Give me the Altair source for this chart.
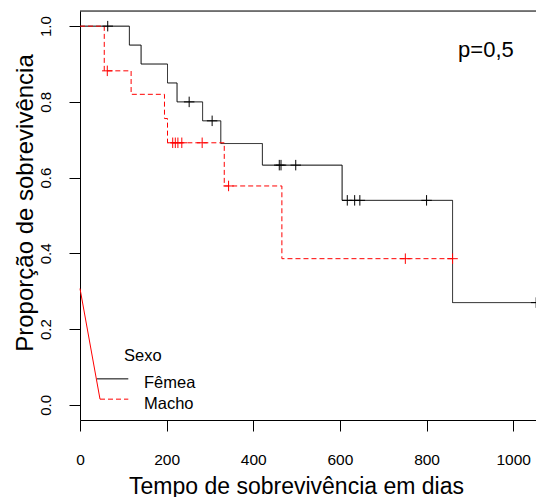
import altair as alt
import pandas as pd

# Kaplan-Meier curves (time in days, survival proportion)
fem_t = [0, 114, 141, 202, 224, 283, 325, 421, 605, 860, 1053]
fem_s = [1.0, 0.95, 0.90, 0.85, 0.80, 0.75, 0.69, 0.633, 0.54, 0.27, 0.27]
male_t = [0, 56, 118, 195, 202, 333, 466, 860]
male_s = [1.0, 0.882, 0.82, 0.756, 0.692, 0.578, 0.386, 0.386]

# censored observations
fem_cens_t = [64, 252, 305, 460, 464, 498, 617, 634, 646, 800, 1053]
fem_cens_s = [1.0, 0.80, 0.75, 0.633, 0.633, 0.633, 0.54, 0.54, 0.54, 0.54, 0.27]
male_cens_t = [63, 214, 220, 226, 235, 282, 343, 751, 860]
male_cens_s = [0.882, 0.692, 0.692, 0.692, 0.692, 0.692, 0.578, 0.386, 0.386]

groups = ["Fêmea", "Macho"]
colors = ["#000000", "#FF0000"]
x_ticks = [0, 200, 400, 600, 800, 1000]
y_ticks = [0.0, 0.2, 0.4, 0.6, 0.8, 1.0]
p_text = "p=0,5"
legend_title = "Sexo"

FONT = "Liberation Sans"
X_DOMAIN = [0, 1052.6]
Y_DOMAIN = [-0.04, 1.04]

curves = pd.DataFrame(
    [{"t": t, "s": s, "g": groups[0]} for t, s in zip(fem_t, fem_s)]
    + [{"t": t, "s": s, "g": groups[1]} for t, s in zip(male_t, male_s)]
)
cens = pd.DataFrame(
    [{"t": t, "s": s, "g": groups[0]} for t, s in zip(fem_cens_t, fem_cens_s)]
    + [{"t": t, "s": s, "g": groups[1]} for t, s in zip(male_cens_t, male_cens_s)]
)

xs = alt.Scale(domain=X_DOMAIN, nice=False, zero=False)
ys = alt.Scale(domain=Y_DOMAIN, nice=False, zero=False)
cs = alt.Scale(domain=groups, range=colors)

x_axis = alt.Axis(
    format="d",
    values=x_ticks, grid=False, domainColor="black", tickColor="black", tickSize=11,
    labelFont=FONT, labelFontSize=15.5, labelColor="black", labelBaseline="alphabetic",
    labelPadding=33, labelFlush=False, labelOverlap=False,
    title="Tempo de sobrevivência em dias", titleFont=FONT, titleFontSize=23,
    titleFontWeight="normal", titleColor="black", titleBaseline="alphabetic",
    titleAlign="center", titleX=216, titleY=73,
)
y_axis = alt.Axis(
    values=y_ticks, format=".1f", grid=False, domainColor="black", tickColor="black",
    tickSize=11, labelFont=FONT, labelFontSize=15, labelColor="black", labelAngle=270,
    labelAlign="center", labelBaseline="alphabetic", labelPadding=19, labelFlush=False,
    labelOverlap=False,
    title="Proporção de sobrevivência", titleFont=FONT, titleFontSize=24,
    titleFontWeight="normal", titleColor="black", titleAngle=270, titleAlign="center",
    titleBaseline="alphabetic", titleX=-48, titleY=191.5,
)


def X():
    return alt.X("t:Q", scale=xs)


def Y():
    return alt.Y("s:Q", scale=ys)


lines = alt.Chart(curves).mark_line(interpolate="step-after", strokeWidth=1).encode(
    x=alt.X("t:Q", scale=xs, axis=x_axis),
    y=alt.Y("s:Q", scale=ys, axis=y_axis),
    color=alt.Color("g:N", scale=cs, legend=None),
    strokeDash=alt.StrokeDash("g:N", scale=alt.Scale(domain=groups, range=[[1, 0], [5, 3]]), legend=None),
)

plus = "M-1,0H1M0,-1V1"
marks = alt.Chart(cens).mark_point(shape=plus, size=110, filled=False, strokeWidth=1, opacity=1).encode(
    x=X(), y=Y(),
    color=alt.Color("g:N", scale=cs, legend=None),
)

# frame: top border of the plot box
frame_df = pd.DataFrame({"t": [X_DOMAIN[0]], "t2": [X_DOMAIN[1]], "s": [Y_DOMAIN[1]]})
frame = alt.Chart(frame_df).mark_rule(color="black", strokeWidth=1).encode(
    x=X(), x2="t2:Q", y=Y())

# annotation: p-value
p_df = pd.DataFrame({"t": [937], "s": [0.918], "txt": [p_text]})
ptext = alt.Chart(p_df).mark_text(font=FONT, fontSize=22, align="center", baseline="alphabetic", color="black").encode(
    x=X(), y=Y(), text="txt:N"
)

# hand-drawn legend (as in the original)
leg_black = pd.DataFrame({"t": [38.5, 111.5], "s": [0.0686, 0.0686]})
leg_red_diag = pd.DataFrame({"t": [0, 46.2], "s": [0.307, 0.015]})
leg_red_dash = pd.DataFrame({"t": [46.2, 111.5], "s": [0.015, 0.015]})
lb = alt.Chart(leg_black).mark_line(color="black", strokeWidth=1).encode(x=X(), y=Y())
lrd = alt.Chart(leg_red_diag).mark_line(color="#FF0000", strokeWidth=1).encode(x=X(), y=Y())
lrs = alt.Chart(leg_red_dash).mark_line(color="#FF0000", strokeWidth=1, strokeDash=[5, 3]).encode(x=X(), y=Y())

leg_text = pd.DataFrame({
    "t": [101.6, 147.7, 147.7],
    "s": [0.117, 0.044, -0.0098],
    "txt": [legend_title] + groups,
})
lt = alt.Chart(leg_text).mark_text(font=FONT, fontSize=16.5, align="left", baseline="alphabetic", color="black").encode(
    x=X(), y=Y(), text="txt:N")

chart = alt.layer(lines, marks, frame, ptext, lb, lrd, lrs, lt).properties(
    width=456, height=409,
    autosize=alt.AutoSizeParams(type="none"),
    padding={"left": 72, "top": 3, "right": 0, "bottom": 78},
).configure_view(stroke=None).configure(background="white")

chart.save("out.html", embed_options={"renderer": "svg", "actions": False})
